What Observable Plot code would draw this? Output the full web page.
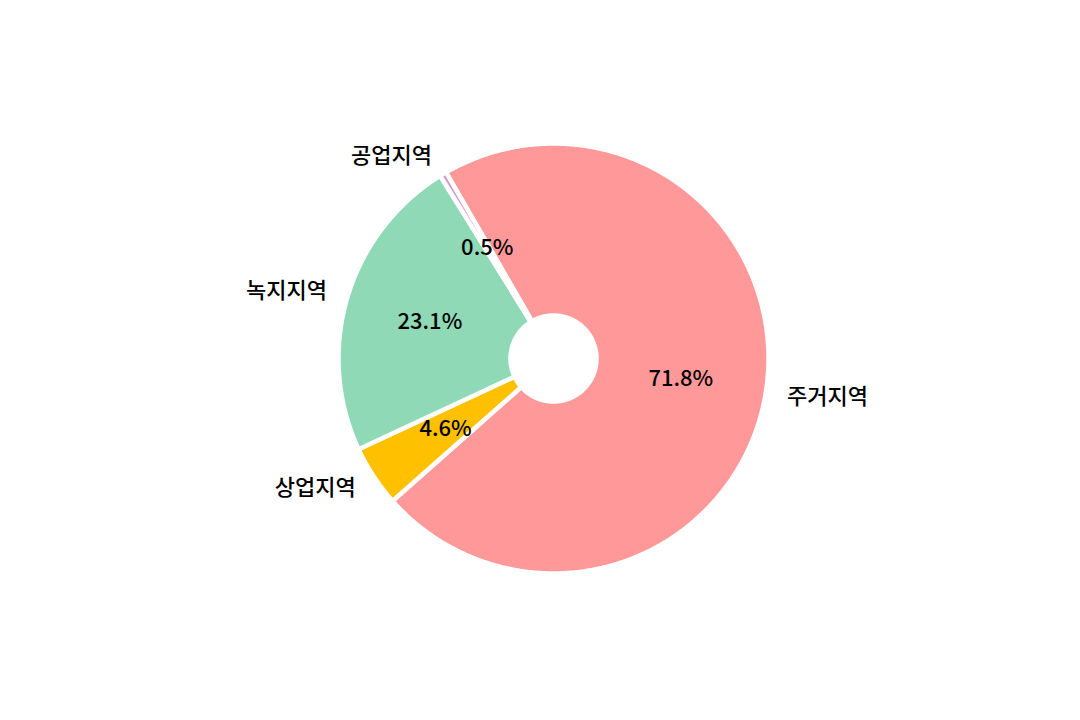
<!DOCTYPE html>
<html>
<head>
<meta charset="utf-8">
<script src="https://cdn.jsdelivr.net/npm/d3@7"></script>
<script src="https://cdn.jsdelivr.net/npm/@observablehq/plot@0.6"></script>
<style>
  html, body { margin: 0; padding: 0; background: #fff; }
  #chart { width: 1080px; height: 720px; }
</style>
</head>
<body>
<div id="chart"></div>
<script>
// Data
const categories = ["주거지역", "상업지역", "녹지지역", "공업지역"];
const values = [71.8, 4.6, 23.1, 0.5];
const colors = ["#ff9999", "#ffc000", "#8fd9b6", "#d395d0"];

// Pie settings (matplotlib-like: startangle 120, clockwise)
const startAngle = 120;
const innerR = 0.2;
const pctDistance = 0.6;
const labelDistance = 1.1;

const total = d3.sum(values);
const rad = Math.PI / 180;
const pts = [];
const pctLabels = [];
const catLabels = [];
let cum = 0;
categories.forEach((cat, i) => {
  const a0 = startAngle - (cum / total) * 360;
  const a1 = a0 - (values[i] / total) * 360;
  cum += values[i];
  const n = Math.max(4, Math.ceil(Math.abs(a1 - a0) / 0.5));
  const ring = [];
  for (let k = 0; k <= n; k++) {
    const a = (a0 + (a1 - a0) * k / n) * rad;
    ring.push({cat, x: Math.cos(a), y: Math.sin(a)});
  }
  for (let k = n; k >= 0; k--) {
    const a = (a0 + (a1 - a0) * k / n) * rad;
    ring.push({cat, x: innerR * Math.cos(a), y: innerR * Math.sin(a)});
  }
  ring.push({...ring[0]});
  pts.push(...ring);
  const am = ((a0 + a1) / 2) * rad;
  pctLabels.push({cat, x: pctDistance * Math.cos(am), y: pctDistance * Math.sin(am), text: values[i].toFixed(1) + "%"});
  catLabels.push({cat, x: labelDistance * Math.cos(am), y: labelDistance * Math.sin(am), text: cat});
});

const R = 215; // pixels per unit radius
const cx = 553, cy = 358;
const W = 1080, H = 720;

const chart = Plot.plot({
  width: W,
  height: H,
  margin: 0,
  style: {fontFamily: "'Noto Sans CJK KR', 'Noto Sans', sans-serif", background: "#fff"},
  x: {domain: [-cx / R, (W - cx) / R], range: [0, W], axis: null},
  y: {domain: [-(H - cy) / R, cy / R], range: [H, 0], axis: null},
  color: {domain: categories, range: colors},
  marks: [
    Plot.line(pts, {x: "x", y: "y", z: "cat", fill: "cat", stroke: "white", strokeWidth: 4.5, strokeLinejoin: "round"}),
    Plot.text(pctLabels, {x: "x", y: "y", text: "text", fontSize: 22, fontWeight: 500, fill: "black", textAnchor: "middle"}),
    Plot.text(catLabels.filter(d => d.x >= 0), {x: "x", y: "y", text: "text", fontSize: 22, fontWeight: 500, fill: "black", textAnchor: "start"}),
    Plot.text(catLabels.filter(d => d.x < 0), {x: "x", y: "y", text: "text", fontSize: 22, fontWeight: 500, fill: "black", textAnchor: "end"})
  ]
});
document.getElementById("chart").appendChild(chart);
</script>
</body>
</html>
